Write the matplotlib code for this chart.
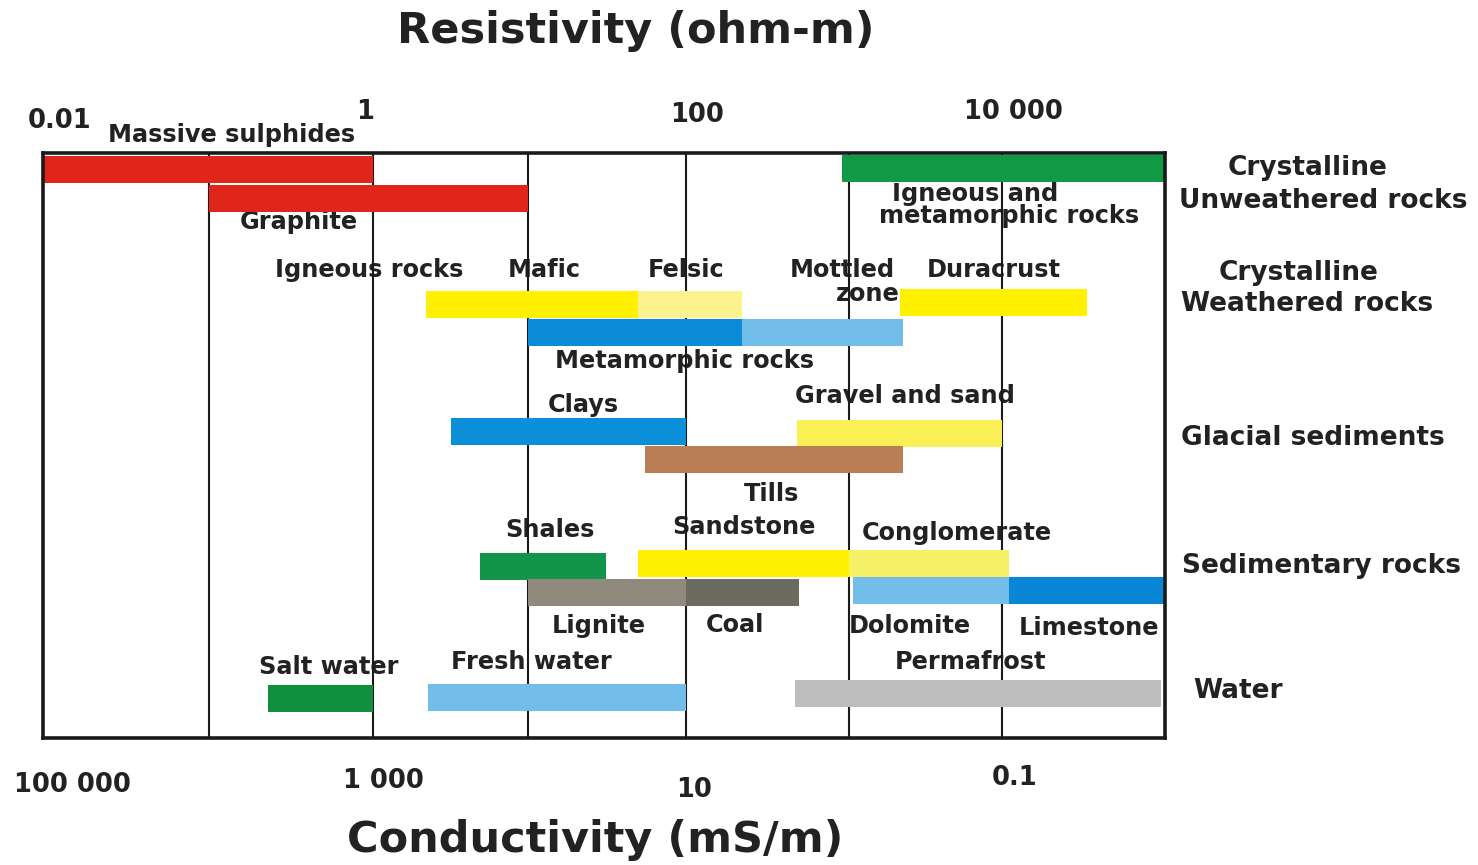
import numpy as np
import matplotlib
matplotlib.use("Agg")
import matplotlib.pyplot as plt

# ---------------- data ----------------
res_ticks = [0.01, 1, 100, 10000]                 # resistivity (ohm-m), top scale
res_tick_labels = ["0.01", "1", "100", "10 000"]
cond_ticks = [100000, 1000, 10, 0.1]              # conductivity (mS/m), bottom scale
cond_tick_labels = ["100 000", "1 000", "10", "0.1"]
grid_res = [0.1, 1, 10, 100, 1000, 10000]

bar_names = ["Massive sulphides", "Graphite", "Igneous and metamorphic rocks",
             "Mafic", "Felsic", "Duracrust", "Metamorphic rocks", "Mottled zone",
             "Clays", "Gravel and sand", "Tills",
             "Shales", "Sandstone", "Conglomerate", "Lignite", "Coal",
             "Dolomite", "Limestone",
             "Salt water", "Fresh water", "Permafrost"]
bar_lo = [0.01, 0.1, 900, 2.2, 50, 2150, 10, 220, 3.2, 480, 55,
          4.9, 50, 1000, 10, 100, 1060, 11000, 0.23, 2.26, 467]
bar_hi = [1, 10, 100000, 50, 220, 33000, 220, 2250, 100, 10000, 2250,
          31, 1000, 11000, 100, 490, 11000, 100000, 1, 100, 95000]
bar_y = [16, 45.5, 15, 151, 151, 149, 179.5, 179.5, 278.5, 280, 306,
         413, 410.5, 410.5, 439.5, 439.5, 437, 437, 545.5, 544.5, 540.5]
bar_colors = ["#e0251b", "#e0251b", "#109a45",
              "#fff100", "#fbf48e", "#fff100", "#0b8bd8", "#72bdea",
              "#0b8fd9", "#f8f055", "#b97e55",
              "#12944a", "#fff100", "#f6f066", "#8f8a7d", "#6c6b60",
              "#72bdea", "#0a86d6",
              "#10903f", "#72bdea", "#bdbdbd"]
BAR_H = 27

# in-chart labels: text, resistivity of left edge, row position
lab_text = ["Massive sulphides", "Graphite", "Igneous and", "metamorphic rocks",
            "Igneous rocks", "Mafic", "Felsic", "Mottled", "zone", "Duracrust",
            "Metamorphic rocks", "Clays", "Gravel and sand", "Tills",
            "Shales", "Sandstone", "Conglomerate", "Lignite", "Coal",
            "Dolomite", "Limestone", "Salt water", "Fresh water", "Permafrost"]
lab_x = [0.0247, 0.155, 1910, 1570, 0.252, 7.43, 57.5, 435, 832, 3236,
         14.8, 13.4, 467, 227, 7.11, 81.5, 1216, 14.2, 133, 1000, 12710,
         0.202, 3.19, 2000]
lab_y = [-18, 69, 41, 63, 117, 117, 117, 117, 141, 117,
         208, 252, 243, 341, 377, 374, 380, 473, 472, 473, 475,
         514, 509, 509]

# group labels on the right: text, left px, centre y px
grp_text = ["Crystalline", "Unweathered rocks", "Crystalline", "Weathered rocks",
            "Glacial sediments", "Sedimentary rocks", "Water"]
grp_x = [1228, 1179, 1219, 1181, 1181, 1182, 1193]
grp_y = [168, 201, 273, 304, 438, 566, 691]

# ---------------- figure ----------------
W, H = 1478, 865
fig = plt.figure(figsize=(W / 100, H / 100), dpi=100)
fig.patch.set_facecolor("white")
L, R, T, B = 43, 1165, 153, 738
ax = fig.add_axes([L / W, 1 - B / H, (R - L) / W, (B - T) / H])

# hand-drawn log scale: decade lines are not exactly evenly spaced
dec_log = np.arange(-2, 6)
dec_frac = (np.array([43, 209, 373, 528, 686, 849, 1002, 1165]) - 43) / 1122.0


def fwd(x):
    x = np.clip(np.asarray(x, dtype=float), 1e-12, None)
    return np.interp(np.log10(x), dec_log, dec_frac, left=-1, right=2)


def inv(y):
    return 10 ** np.interp(np.asarray(y, dtype=float), dec_frac, dec_log)


ax.set_xscale("function", functions=(fwd, inv))
ax.set_xlim(0.01, 1e5)
ax.set_ylim(B - T, 0)
ax.set_xticks([])
ax.set_yticks([])
ax.minorticks_off()
ax.tick_params(which="both", bottom=False, top=False, left=False, right=False,
               labelbottom=False, labelleft=False)
for s in ax.spines.values():
    s.set_linewidth(2.6)
    s.set_color("#1a1a1a")
    s.set_zorder(10)

TXT = "#222222"
FONT = "DejaVu Sans"

for g in grid_res:
    ax.axvline(g, color="#1a1a1a", lw=1.5, zorder=2)

ax.barh(bar_y, np.array(bar_hi) - np.array(bar_lo), left=bar_lo,
        height=BAR_H, color=bar_colors, zorder=3, linewidth=0)

for t, x, y in zip(lab_text, lab_x, lab_y):
    ax.text(x, y, t, ha="left", va="center", fontsize=17.3, fontweight="bold",
            color=TXT, family=FONT, zorder=1, clip_on=False)


def fx(px):
    return px / W


def fy(py):
    return 1 - py / H


# top resistivity scale (offsets in pixels)
top_off = [(17, 32), (-8, 41), (11, 38), (11, 41)]
for v, t, (dx, dy) in zip(res_ticks, res_tick_labels, top_off):
    ax.annotate(t, xy=(v, 0), xytext=(dx * 0.72, dy * 0.72), textcoords="offset points",
                ha="center", va="center", fontsize=18.5, fontweight="bold",
                color=TXT, family=FONT, annotation_clip=False)

# bottom conductivity scale (conductivity mS/m = 1000 / resistivity)
bot_off = [(29, -47), (10, -43), (8, -52), (13, -40)]
for v, t, (dx, dy) in zip(cond_ticks, cond_tick_labels, bot_off):
    ax.annotate(t, xy=(1000.0 / v, B - T), xytext=(dx * 0.72, dy * 0.72),
                textcoords="offset points", ha="center", va="center",
                fontsize=18.5, fontweight="bold", color=TXT, family=FONT,
                annotation_clip=False)

for t, x, y in zip(grp_text, grp_x, grp_y):
    fig.text(fx(x), fy(y), t, ha="left", va="center", fontsize=19,
             fontweight="bold", color=TXT, family=FONT)

fig.text(fx(636), fy(31), "Resistivity (ohm-m)", ha="center", va="center",
         fontsize=31, fontweight="bold", color=TXT, family=FONT)
fig.text(fx(595), fy(840), "Conductivity (mS/m)", ha="center", va="center",
         fontsize=31, fontweight="bold", color=TXT, family=FONT)

fig.savefig("out.png", dpi=100, facecolor="white")
